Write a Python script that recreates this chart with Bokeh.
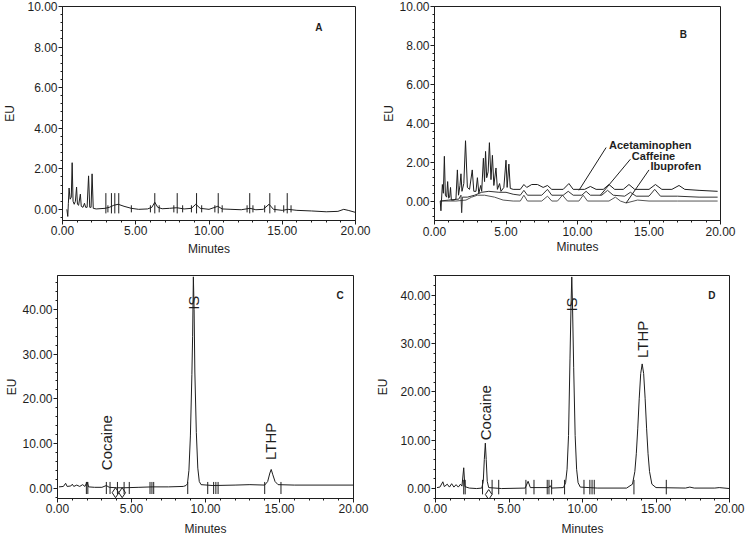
from bokeh.plotting import figure
from bokeh.models import Range1d, SingleIntervalTicker, NumeralTickFormatter
from bokeh.layouts import column, row
from bokeh.embed import file_html
from bokeh.resources import INLINE
from bokeh.core.properties import value
import math

FONT = "Liberation Sans"
INK = "#1e1e1e"

# ---------------- Panel A (blank) ----------------
a_time = [0.30, 0.36, 0.40, 0.45, 0.52, 0.60, 0.66, 0.72, 0.80, 0.88, 0.96, 1.02, 1.10, 1.22, 1.28,
          1.40, 1.50, 1.58, 1.68, 1.78, 1.86, 1.95, 2.02, 2.10, 2.30, 2.90, 3.20, 3.50, 3.80, 4.20,
          4.70, 5.20, 5.80, 6.10, 6.30, 6.50, 6.80, 7.30, 7.80, 8.30, 8.80, 9.10, 9.40, 10.00, 10.60,
          10.90, 11.50, 12.20, 12.80, 13.20, 13.70, 14.10, 14.40, 15.00, 15.40, 16.00, 17.00, 18.00,
          18.80, 19.20, 19.50, 20.00]
a_eu = [0.00, -0.35, 0.30, 1.05, 0.50, 0.60, 2.30, 0.40, 0.25, 0.40, 1.10, 0.25, 0.20, 0.75, 0.15,
        0.10, 0.30, 0.10, 0.10, 1.65, 0.10, 0.10, 1.75, 0.05, 0.02, 0.05, 0.10, 0.20, 0.25, 0.15,
        0.05, 0.00, 0.02, 0.10, 0.35, 0.10, 0.03, 0.05, 0.08, 0.02, 0.05, 0.25, 0.05, 0.00, 0.15,
        0.02, 0.00, -0.02, 0.05, -0.02, 0.00, 0.25, 0.00, -0.05, 0.00, -0.05, -0.08, -0.12,
        -0.10, 0.00, -0.05, -0.15]
a_marks_tall = [2.96, 3.34, 3.57, 3.84, 6.30, 7.83, 9.15, 10.63, 12.78, 14.15, 15.34]
a_marks_short = [3.10, 4.70, 6.00, 6.60, 7.60, 8.20, 8.80, 9.50, 10.40, 10.90, 12.60, 13.00,
                 13.80, 14.50, 15.10, 15.60]

# ---------------- Panel B (three analgesics) ----------------
b_acet_time = [0.40, 0.45, 0.55, 0.62, 0.69, 0.76, 0.85, 0.92, 0.99, 1.06, 1.12, 1.18, 1.35, 1.50,
               1.60, 1.68, 1.78, 1.85, 1.92, 2.05, 2.17, 2.30, 2.45, 2.64, 2.75, 2.90, 3.00, 3.10,
               3.23, 3.30, 3.42, 3.50, 3.57, 3.65, 3.75, 3.84, 3.95, 4.05, 4.15, 4.30, 4.40, 4.55,
               4.65, 4.85, 5.00, 5.08, 5.20, 5.30, 5.50, 6.00, 6.25, 6.45, 6.80, 7.20, 7.60, 7.90,
               8.20, 9.00, 9.40, 9.70, 10.50, 10.90, 11.30, 11.80, 12.20, 12.60, 13.20, 13.60,
               14.00, 15.00, 15.45, 15.90, 16.60, 17.10, 17.50, 18.50, 19.80]
b_acet_eu = [0.00, -0.50, 0.85, 0.40, 2.30, 0.30, 0.20, 1.00, 0.15, 0.20, 0.70, 0.05, 0.05, 0.10,
             1.60, 0.30, 0.80, 1.40, 0.50, 0.90, 3.10, 0.70, 0.60, 1.60, 0.50, 0.50, 1.20, 0.40,
             0.80, 0.50, 2.20, 1.00, 2.55, 1.20, 1.50, 3.00, 1.10, 2.35, 0.80, 1.70, 0.60, 0.90,
             0.50, 0.70, 2.10, 0.70, 1.90, 0.65, 0.60, 0.60, 0.85, 0.70, 0.85, 0.85, 0.70, 0.80,
             0.60, 0.60, 0.90, 0.60, 0.60, 0.75, 0.60, 0.60, 0.85, 0.60, 0.60, 0.85,
             0.60, 0.60, 0.85, 0.60, 0.60, 0.80, 0.60, 0.55, 0.50]
b_caff_time = [0.40, 1.00, 1.70, 1.85, 1.90, 1.95, 2.30, 2.80, 3.30, 3.80, 4.50, 5.00, 5.50, 6.00,
               6.25, 6.50, 7.50, 7.90, 8.20, 9.00, 9.35, 9.70, 10.30, 10.60, 10.90, 11.70, 12.10,
               12.50, 13.30, 13.70, 14.10, 15.00, 15.40, 15.80, 17.00, 18.50, 19.80]
b_caff_eu = [0.00, 0.05, 0.10, 0.30, -0.60, 0.20, 0.20, 0.30, 0.45, 0.50, 0.45, 0.45, 0.35, 0.30,
             0.55, 0.30, 0.30, 0.60, 0.30, 0.30, 0.50, 0.30, 0.30, 0.50, 0.30, 0.30, 0.55,
             0.30, 0.25, 0.45, 0.25, 0.25, 0.60, 0.25, 0.25, 0.20, 0.20]
b_ibu_time = [0.40, 1.50, 2.20, 2.60, 3.00, 3.50, 4.20, 4.80, 5.50, 6.00, 6.25, 6.50, 7.50, 7.90,
              8.20, 8.60, 8.95, 9.30, 10.10, 10.40, 10.70, 12.20, 12.65, 13.00, 13.40, 14.20,
              15.00, 17.00, 19.80]
b_ibu_eu = [0.00, 0.00, 0.05, 0.20, 0.30, 0.30, 0.20, 0.05, 0.00, 0.00, 0.30, 0.00, 0.00, 0.25,
            0.00, 0.00, 0.30, 0.00, 0.00, 0.30, 0.00, 0.00, 0.20, 0.00, -0.10, 0.05,
            0.00, 0.00, 0.00]
b_names = ["Acetaminophen", "Caffeine", "Ibuprofen"]
b_label_x = [12.2, 13.8, 15.1]
b_label_y = [2.9, 2.3, 1.8]
b_lead_x0 = [12.0, 13.7, 15.0]
b_lead_y0 = [2.75, 2.15, 1.6]
b_lead_x1 = [10.1, 11.6, 13.4]
b_lead_y1 = [0.55, 0.30, -0.10]

# ---------------- Panel C ----------------
c_time = [0.10, 0.40, 0.55, 0.65, 0.90, 1.00, 1.10, 1.30, 1.50, 1.70, 1.85, 2.00, 2.10, 2.50,
          3.00, 3.30, 3.50, 4.00, 4.50, 5.50, 6.40, 7.50, 8.50, 8.68, 8.78, 8.88, 8.98, 9.08,
          9.13, 9.18, 9.23, 9.28, 9.38, 9.48, 9.58, 9.70, 10.50, 12.00, 13.00, 14.00, 14.20,
          14.35, 14.44, 14.55, 14.70, 14.90, 16.00, 20.00]
c_eu = [0.30, 0.40, 1.10, 0.40, 0.50, 0.90, 0.40, 0.70, 0.40, 0.80, 0.40, 1.40, 0.30, 0.20,
        0.20, 0.60, 0.20, 0.10, 0.10, 0.20, 0.30, 0.30, 0.40, 0.60, 1.00, 4.00, 11.70, 25.40,
        34.00, 47.30, 40.00, 26.00, 12.50, 4.50, 1.50, 0.80, 0.60, 0.70, 0.80, 0.70, 1.50,
        3.40, 4.20, 3.00, 1.50, 0.80, 0.70, 0.70]
c_marks = [1.95, 2.05, 3.30, 3.55, 4.05, 4.50, 4.85, 6.25, 6.38, 6.50, 8.80, 10.15, 10.55, 10.70,
           10.85, 14.00, 15.10]
c_diamond_x = [3.92, 4.37]
c_diamond_y = [-1.0, -1.0]
c_names = ["Cocaine", "IS", "LTHP"]
c_name_x = [3.33, 9.17, 14.41]
c_name_y = [10.2, 41.5, 10.5]

# ---------------- Panel D ----------------
d_time = [0.10, 0.30, 0.50, 0.60, 0.80, 0.95, 1.10, 1.25, 1.40, 1.55, 1.70, 1.80, 1.92, 2.00,
          2.30, 2.80, 3.15, 3.25, 3.32, 3.39, 3.45, 3.52, 3.62, 4.50, 6.10, 6.30, 6.45, 7.70,
          7.80, 7.90, 8.70, 8.85, 8.95, 9.05, 9.15, 9.22, 9.27, 9.32, 9.40, 9.50, 9.60, 9.70,
          9.85, 11.00, 13.00, 13.40, 13.56, 13.66, 13.76, 13.86, 13.96, 14.06, 14.16, 14.26,
          14.36, 14.46, 14.56, 14.72, 15.00, 17.00, 17.30, 17.60, 19.00, 19.30, 20.00]
d_eu = [0.20, 0.30, 1.40, 0.40, 0.90, 0.30, 1.00, 0.30, 0.80, 0.30, 0.90, 0.50, 4.30, 0.40,
        0.10, 0.00, 0.10, 1.50, 6.00, 9.40, 6.00, 1.50, 0.20, 0.00, 0.10, 1.50, 0.20, 0.20,
        0.60, 0.10, 0.20, 1.20, 4.00, 11.00, 27.00, 38.00, 43.80, 38.00, 25.00, 11.00, 4.00, 1.20,
        0.30, 0.10, 0.10, 0.90, 3.50, 7.20, 12.50, 18.70, 23.80, 25.80, 23.80, 18.70,
        12.50, 7.20, 3.50, 0.90, 0.20, 0.10, 0.30, 0.10, 0.10, 0.20, 0.00]
d_marks = [1.92, 2.02, 3.20, 3.85, 4.30, 6.15, 6.70, 7.60, 7.72, 7.90, 8.78, 10.10, 10.50, 10.65,
           10.80, 13.50, 15.70]
d_diamond_x = [3.62]
d_diamond_y = [-1.24]
d_names = ["Cocaine", "IS", "LTHP"]
d_name_x = [3.41, 9.25, 14.06]
d_name_y = [15.7, 38.1, 30.9]

panel_letters = ["A", "B", "C", "D"]
letter_pos = [(17.5, 8.96), (17.4, 8.56), (19.1, 43.1), (18.8, 40.0)]


def make_panel(width, height, yr, y_interval, bl, br, bt, bb, y_als, x_als, x_standoff):
    p = figure(width=width, height=height, x_range=Range1d(0, 20), y_range=Range1d(*yr),
               output_backend="svg", toolbar_location=None,
               min_border_left=bl, min_border_right=br, min_border_top=bt, min_border_bottom=bb)
    p.xgrid.visible = False
    p.ygrid.visible = False
    p.outline_line_color = INK
    p.outline_line_width = 1
    p.background_fill_color = "white"
    p.border_fill_color = "white"
    p.xaxis.ticker = SingleIntervalTicker(interval=5, num_minor_ticks=5)
    p.yaxis.ticker = SingleIntervalTicker(interval=y_interval, num_minor_ticks=5)
    for ax in (p.xaxis[0], p.yaxis[0]):
        ax.formatter = NumeralTickFormatter(format="0.00")
        ax.axis_line_color = INK
        ax.major_tick_line_color = INK
        ax.minor_tick_line_color = INK
        ax.major_tick_in = 0
        ax.major_tick_out = 4
        ax.minor_tick_in = 0
        ax.minor_tick_out = 2
        ax.major_label_text_font = FONT
        ax.major_label_text_font_size = "12px"
        ax.major_label_text_color = INK
        ax.axis_label_text_font = FONT
        ax.axis_label_text_font_size = "12px"
        ax.axis_label_text_font_style = "normal"
        ax.axis_label_text_color = INK
    p.xaxis.axis_label = "Minutes"
    p.yaxis.axis_label = "EU"
    p.yaxis.major_label_standoff = 1
    p.yaxis.axis_label_standoff = y_als
    p.xaxis.major_label_standoff = x_standoff
    p.xaxis.axis_label_standoff = x_als
    return p


def add_letter(p, idx):
    lx, ly = letter_pos[idx]
    p.text(x=[lx], y=[ly], text=[panel_letters[idx]], text_font=value(FONT),
           text_font_size="10px", text_font_style="bold", text_color=INK,
           text_align="center", text_baseline="middle")


# Panel A
pA = make_panel(373, 270, (-0.55, 10.0), 2, 61, 18, 6, 42, 7, 4, 1)
pA.line(a_time, a_eu, line_color=INK, line_width=1)
pA.segment(x0=a_marks_tall, y0=[-0.2] * len(a_marks_tall), x1=a_marks_tall,
           y1=[0.8] * len(a_marks_tall), line_color=INK, line_width=1)
pA.segment(x0=a_marks_short, y0=[-0.15] * len(a_marks_short), x1=a_marks_short,
           y1=[0.2] * len(a_marks_short), line_color=INK, line_width=1)
add_letter(pA, 0)

# Panel B
pB = make_panel(373, 270, (-1.0, 10.0), 2, 61, 26, 6, 50, 0, 1, 2)
pB.line(b_ibu_time, b_ibu_eu, line_color="#555555", line_width=1)
pB.line(b_caff_time, b_caff_eu, line_color="#333333", line_width=1)
pB.line(b_acet_time, b_acet_eu, line_color=INK, line_width=1)
pB.segment(x0=b_lead_x0, y0=b_lead_y0, x1=b_lead_x1, y1=b_lead_y1, line_color=INK, line_width=1)
pB.text(x=b_label_x, y=b_label_y, text=b_names, text_font=value(FONT), text_font_size="11px",
        text_font_style="bold", text_color=INK, text_align="left", text_baseline="middle")
add_letter(pB, 1)

# Panel C
pC = make_panel(373, 269, (-2.3, 47.6), 10, 57, 20, 5, 41, 0, 6, 1)
pC.line(c_time, c_eu, line_color=INK, line_width=1)
pC.segment(x0=c_marks, y0=[-1.3] * len(c_marks), x1=c_marks, y1=[1.4] * len(c_marks),
           line_color=INK, line_width=1)
pC.scatter(c_diamond_x, c_diamond_y, marker="diamond", size=10, fill_color=None,
           line_color=INK, line_width=1)
pC.text(x=c_name_x, y=c_name_y, text=c_names, angle=math.pi / 2, text_font=value(FONT),
        text_font_size="15px", text_color=INK, text_align="center", text_baseline="middle")
add_letter(pC, 2)

# Panel D
pD = make_panel(373, 269, (-2.06, 44.1), 10, 61, 17, 5, 40, 7, 6, 1)
pD.line(d_time, d_eu, line_color=INK, line_width=1)
pD.segment(x0=d_marks, y0=[-1.2] * len(d_marks), x1=d_marks, y1=[1.8] * len(d_marks),
           line_color=INK, line_width=1)
pD.scatter(d_diamond_x, d_diamond_y, marker="diamond", size=10, fill_color=None,
           line_color=INK, line_width=1)
pD.text(x=d_name_x, y=d_name_y, text=d_names, angle=math.pi / 2, text_font=value(FONT),
        text_font_size="15px", text_color=INK, text_align="center", text_baseline="middle")
add_letter(pD, 3)

layout = column(row(pA, pB, spacing=0), row(pC, pD, spacing=0), spacing=0)
open("out.html", "w").write(file_html(layout, INLINE))
